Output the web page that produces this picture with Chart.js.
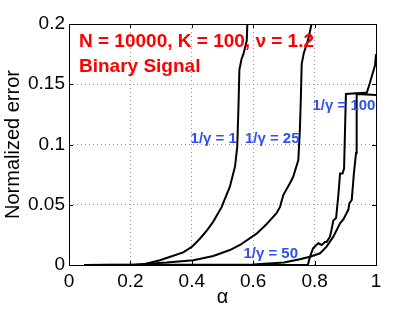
<!DOCTYPE html>
<html>
<head>
<meta charset="utf-8">
<script src="https://cdn.jsdelivr.net/npm/chart.js@4.4.1/dist/chart.umd.min.js"></script>
<style>
  html, body { margin: 0; padding: 0; background: #fff; }
  #wrap { width: 415px; height: 311px; }
</style>
</head>
<body>
<div id="wrap"><canvas id="errChart" width="415" height="311"></canvas></div>
<script>
// alpha / normalized error
const alpha1 = [0.05, 0.2, 0.242, 0.296, 0.33, 0.372, 0.40, 0.427, 0.45, 0.47, 0.497, 0.524, 0.541, 0.548, 0.552, 0.555, 0.562, 0.568, 0.579, 0.581];
const err1   = [0, 0, 0.0005, 0.004, 0.0068, 0.0105, 0.015, 0.022, 0.029, 0.036, 0.048, 0.065, 0.082, 0.098, 0.131, 0.162, 0.171, 0.175, 0.186, 0.2];

const alpha25 = [0.05, 0.22, 0.318, 0.405, 0.47, 0.524, 0.557, 0.611, 0.644, 0.676, 0.687, 0.698, 0.72, 0.73, 0.747, 0.752, 0.755, 0.758, 0.765, 0.779, 0.79];
const err25   = [0, 0.0005, 0.002, 0.004, 0.0075, 0.0124, 0.0166, 0.026, 0.034, 0.043, 0.048, 0.058, 0.068, 0.073, 0.087, 0.112, 0.137, 0.167, 0.176, 0.187, 0.2];

const alpha50 = [0.05, 0.6, 0.7, 0.752, 0.785, 0.818, 0.839, 0.861, 0.883, 0.894, 0.904, 0.91, 0.913, 0.921, 0.928, 0.935, 0.937, 1.0];
const err50   = [0, 0.0005, 0.002, 0.0047, 0.0069, 0.0097, 0.0152, 0.0235, 0.0346, 0.038, 0.043, 0.046, 0.051, 0.054, 0.076, 0.093, 0.142, 0.141];

const alpha100 = [0.05, 0.778, 0.785, 0.795, 0.812, 0.823, 0.834, 0.839, 0.85, 0.855, 0.861, 0.87, 0.877, 0.883, 0.891, 0.896, 0.902, 0.964, 0.97, 0.98, 0.997, 1.0];
const err100   = [0, 0, 0.0069, 0.0138, 0.018, 0.0166, 0.019, 0.019, 0.0235, 0.029, 0.037, 0.039, 0.057, 0.076, 0.076, 0.08, 0.142, 0.143, 0.143, 0.151, 0.166, 0.175];

const xTicks = [0, 0.2, 0.4, 0.6, 0.8, 1];
const yTicks = [0, 0.05, 0.1, 0.15, 0.2];

// curve labels (text, alpha, error)
const curveLabels = ['1/γ = 1', '1/γ = 25', '1/γ = 50', '1/γ = 100'];
const labelAlpha  = [0.396, 0.573, 0.568, 0.793];
const labelErr    = [0.101, 0.101, 0.0055, 0.129];

const titleLines = ['N = 10000, K = 100, ν = 1.2', 'Binary Signal'];

const FONT = "'Liberation Sans', Arial, Helvetica, sans-serif";

function toPoints(xs, ys) {
    return xs.map((x, i) => ({ x: x, y: ys[i] }));
}

function curve(xs, ys) {
    return {
        data: toPoints(xs, ys),
        borderColor: '#000000',
        borderWidth: 2,
        pointRadius: 0,
        fill: false,
        tension: 0
    };
}

// frame, inward ticks and text annotations
const decorPlugin = {
    id: 'decor',
    afterDraw(chart) {
        const ctx = chart.ctx;
        const a = chart.chartArea;
        const xs = chart.scales.x, ys = chart.scales.y;
        ctx.save();
        ctx.strokeStyle = '#000';
        ctx.lineWidth = 1;
        ctx.strokeRect(Math.round(a.left) + 0.5, Math.round(a.top) + 0.5,
            Math.round(a.right - a.left), Math.round(a.bottom - a.top));
        ctx.beginPath();
        xTicks.forEach(v => {
            const px = Math.round(xs.getPixelForValue(v)) + 0.5;
            ctx.moveTo(px, a.bottom); ctx.lineTo(px, a.bottom - 4);
            ctx.moveTo(px, a.top); ctx.lineTo(px, a.top + 4);
        });
        yTicks.forEach(v => {
            const py = Math.round(ys.getPixelForValue(v)) + 0.5;
            ctx.moveTo(a.left, py); ctx.lineTo(a.left + 4, py);
            ctx.moveTo(a.right, py); ctx.lineTo(a.right - 4, py);
        });
        ctx.stroke();

        ctx.textAlign = 'left';
        ctx.textBaseline = 'alphabetic';
        ctx.fillStyle = '#ff0000';
        ctx.font = 'bold 19px ' + FONT;
        ctx.fillText(titleLines[0], a.left + 10, a.top + 23);
        ctx.fillText(titleLines[1], a.left + 10, a.top + 48);

        ctx.fillStyle = '#3050f0';
        ctx.font = 'bold 15px ' + FONT;
        curveLabels.forEach((t, i) => {
            ctx.fillText(t, xs.getPixelForValue(labelAlpha[i]), ys.getPixelForValue(labelErr[i]));
        });
        ctx.restore();
    }
};

new Chart(document.getElementById('errChart'), {
    type: 'line',
    data: {
        datasets: [
            curve(alpha1, err1),
            curve(alpha25, err25),
            curve(alpha50, err50),
            curve(alpha100, err100)
        ]
    },
    options: {
        responsive: false,
        animation: false,
        layout: { padding: { left: 0, right: 39, top: 24, bottom: 0 } },
        plugins: {
            legend: { display: false },
            tooltip: { enabled: false }
        },
        scales: {
            x: {
                type: 'linear',
                min: 0,
                max: 1,
                afterFit(scale) { scale.height = 46; },
                afterBuildTicks(scale) { scale.ticks = xTicks.map(v => ({ value: v })); },
                grid: { color: '#9a9a9a', drawTicks: false },
                border: { display: false, dash: [1, 3] },
                ticks: {
                    color: '#000',
                    padding: 5,
                    maxRotation: 0,
                    font: { family: FONT, size: 19 },
                    callback: v => String(v)
                },
                title: {
                    display: true,
                    text: 'α',
                    color: '#000',
                    padding: { top: 0, bottom: 2 },
                    font: { family: FONT, size: 20 }
                }
            },
            y: {
                min: 0,
                max: 0.2,
                afterFit(scale) { scale.width = 69; },
                afterBuildTicks(scale) { scale.ticks = yTicks.map(v => ({ value: v })); },
                grid: { color: '#9a9a9a', drawTicks: false },
                border: { display: false, dash: [1, 3] },
                ticks: {
                    color: '#000',
                    padding: 4,
                    font: { family: FONT, size: 19 },
                    callback: v => String(v)
                },
                title: {
                    display: true,
                    text: 'Normalized error',
                    color: '#000',
                    padding: { top: 1, bottom: 0 },
                    font: { family: FONT, size: 20 }
                }
            }
        }
    },
    plugins: [decorPlugin]
});
</script>
</body>
</html>
